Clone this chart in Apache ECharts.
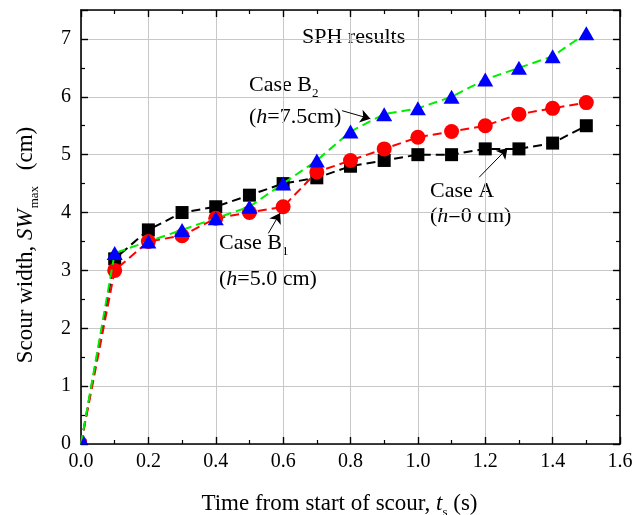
<!DOCTYPE html>
<html>
<head>
<meta charset="utf-8">
<script src="https://cdn.jsdelivr.net/npm/echarts@6/dist/echarts.min.js"></script>
<style>
  html, body { margin: 0; padding: 0; background: #fff; }
  #chart { width: 644px; height: 515px; }
</style>
</head>
<body>
<div id="chart"></div>
<script>
// Scour width over time for the three SPH cases
const times  = [0, 0.1, 0.2, 0.3, 0.4, 0.5, 0.6, 0.7, 0.8, 0.9, 1.0, 1.1, 1.2, 1.3, 1.4, 1.5];
const caseA  = [0, 3.2, 3.7, 4.0, 4.1, 4.3, 4.5, 4.6, 4.8, 4.9, 5.0, 5.0, 5.1, 5.1, 5.2, 5.5];
const caseB1 = [0, 3.0, 3.5, 3.6, 3.9, 4.0, 4.1, 4.7, 4.9, 5.1, 5.3, 5.4, 5.5, 5.7, 5.8, 5.9];
const caseB2 = [0, 3.3, 3.5, 3.7, 3.9, 4.1, 4.5, 4.9, 5.4, 5.7, 5.8, 6.0, 6.3, 6.5, 6.7, 7.1];

// Arrow callouts (data coordinates: [start, end])
const arrowB2 = [[0.775, 5.76], [0.859, 5.62]];
const arrowB1 = [[0.556, 3.64], [0.591, 3.99]];
const arrowA  = [[1.182, 4.61], [1.266, 5.11]];

const FONT = "'Liberation Serif', 'Times New Roman', serif";

// The origin marker sits in the axis corner, so only the part inside the plot is shown
function pairs(ys, originSymbol) {
  return times.map((t, i) => {
    if (i === 0 && t === 0) {
      return Object.assign({ value: [t, ys[i]] }, originSymbol);
    }
    return [t, ys[i]];
  });
}

const textRich = {
  it:  { fontFamily: FONT, fontSize: 22, fontStyle: 'italic', color: '#000', lineHeight: 30 },
  n:   { fontFamily: FONT, fontSize: 22, color: '#000', lineHeight: 30 },
  sub: { fontFamily: FONT, fontSize: 13, color: '#000', lineHeight: 13, verticalAlign: 'bottom' }
};
const titleRich = {
  it:  { fontFamily: FONT, fontSize: 23, fontStyle: 'italic', color: '#000', lineHeight: 30 },
  n:   { fontFamily: FONT, fontSize: 23, color: '#000', lineHeight: 30 },
  sub: { fontFamily: FONT, fontSize: 13, color: '#000', lineHeight: 13, verticalAlign: 'bottom' },
  subw: { fontFamily: FONT, fontSize: 13, color: '#000', lineHeight: 13, verticalAlign: 'bottom', padding: [0, 10, 0, 1] }
};

const axisCommon = {
  type: 'value',
  axisLine: { show: true, onZero: false, lineStyle: { color: '#000', width: 1.6 } },
  axisTick: { show: true, inside: true, length: 7, lineStyle: { color: '#000', width: 1.4 } },
  minorTick: { show: true, splitNumber: 2, length: 4, lineStyle: { color: '#000', width: 1.2 } },
  splitLine: { show: false }
};

const chart = echarts.init(document.getElementById('chart'), null, { renderer: 'canvas' });

const option = {
  animation: false,
  backgroundColor: '#fff',
  grid: { left: 81, right: 24, top: 10, bottom: 71, containLabel: false, outerBoundsMode: 'none' },
  xAxis: [
    Object.assign({}, axisCommon, {
      position: 'bottom',
      min: 0, max: 1.6, interval: 0.2,
      splitLine: { show: true, lineStyle: { color: '#c8c8c8', width: 1 } },
      axisLabel: {
        margin: 8, color: '#000', fontFamily: FONT, fontSize: 20,
        formatter: (v) => v.toFixed(1)
      },
      name: '{n|Time from start of scour, }{it|t}{sub|s}{n| (s)}',
      nameLocation: 'middle',
      nameGap: 45,
      nameTextStyle: { rich: titleRich, padding: [0, 22, 0, 0] }
    }),
    Object.assign({}, axisCommon, {
      position: 'top',
      min: 0, max: 1.6, interval: 0.2,
      axisLabel: { show: false }
    })
  ],
  yAxis: [
    Object.assign({}, axisCommon, {
      position: 'left',
      min: 0, max: 7.5, interval: 1,
      splitLine: { show: true, lineStyle: { color: '#c8c8c8', width: 1 } },
      axisLabel: {
        margin: 10, color: '#000', fontFamily: FONT, fontSize: 20,
        showMaxLabel: false,
        formatter: (v) => (Number.isInteger(v) ? String(v) : '')
      },
      name: '{n|Scour width, }{it|SW}{subw|max}{n| (cm)}',
      nameLocation: 'middle',
      nameRotate: 90,
      nameGap: 40,
      nameTextStyle: { rich: titleRich, padding: [0, 36, 0, 0] }
    }),
    Object.assign({}, axisCommon, {
      position: 'right',
      min: 0, max: 7.5, interval: 1,
      axisLabel: { show: false }
    })
  ],
  series: [
    {
      name: 'Case A',
      type: 'line',
      data: pairs(caseA, { symbol: 'none' }),
      symbol: 'rect',
      symbolSize: 13,
      itemStyle: { color: '#000' },
      lineStyle: { color: '#000', width: 2, type: [9, 5] },
      z: 2,
      markLine: {
        silent: true,
        symbol: ['none', 'arrow'],
        symbolSize: 10,
        label: { show: false },
        lineStyle: { color: '#000', width: 1, type: 'solid' },
        data: [
          [{ coord: arrowB2[0] }, { coord: arrowB2[1] }],
          [{ coord: arrowB1[0] }, { coord: arrowB1[1] }],
          [{ coord: arrowA[0] },  { coord: arrowA[1] }]
        ]
      }
    },
    {
      name: 'Case B1',
      type: 'line',
      data: pairs(caseB1, { symbolSize: 6, symbolOffset: [3, -3] }),
      symbol: 'circle',
      symbolSize: 15,
      itemStyle: { color: '#ff0000' },
      lineStyle: { color: '#ff0000', width: 2, type: [9, 5] },
      z: 3
    },
    {
      name: 'Case B2',
      type: 'line',
      data: pairs(caseB2, { symbolSize: [8, 9], symbolOffset: [3, -4] }),
      symbol: 'triangle',
      symbolSize: [16, 14],
      itemStyle: { color: '#0000ff' },
      lineStyle: { color: '#00ee00', width: 2, type: [9, 5] },
      z: 4
    }
  ],
  graphic: [
    { type: 'text', x: 302, y: 37, style: { text: 'SPH results', font: '22px ' + FONT, fill: '#000', verticalAlign: 'middle' } },
    { type: 'text', x: 249, y: 85, style: { text: '{n|Case B}{sub|2}', rich: textRich, verticalAlign: 'middle' } },
    { type: 'text', x: 249, y: 117, style: { text: '{n|(}{it|h}{n|=7.5cm)}', rich: textRich, verticalAlign: 'middle' } },
    { type: 'text', x: 219, y: 243, style: { text: '{n|Case B}{sub|1}', rich: textRich, verticalAlign: 'middle' } },
    { type: 'text', x: 219, y: 279, style: { text: '{n|(}{it|h}{n|=5.0 cm)}', rich: textRich, verticalAlign: 'middle' } },
    { type: 'text', x: 430, y: 191, style: { text: '{n|Case A}', rich: textRich, verticalAlign: 'middle' } },
    { type: 'text', x: 430, y: 216, style: { text: '{n|(}{it|h}{n|=0 cm)}', rich: textRich, verticalAlign: 'middle' } }
  ]
};

chart.setOption(option);
</script>
</body>
</html>
